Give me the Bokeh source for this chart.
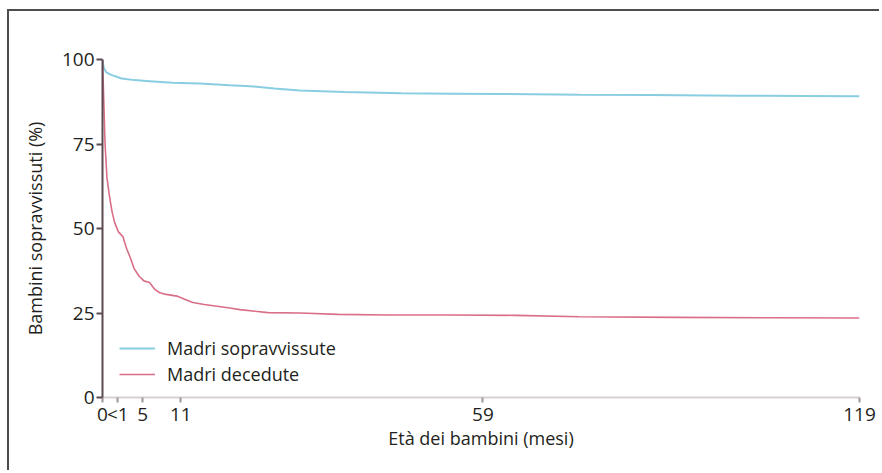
from bokeh.plotting import figure
from bokeh.models import Range1d, FixedTicker, Legend, LegendItem
from bokeh.embed import file_html
from bokeh.resources import INLINE

# Months and survival (%)
months_alive = [0, 0.2, 0.6, 1.2, 1.9, 3, 5, 7.4, 11, 15.3, 20, 23.2, 27, 31, 38, 47, 55, 63, 75, 86, 100, 110, 119]
surv_alive = [100, 97.5, 96.2, 95.6, 95.1, 94.4, 93.9, 93.6, 93.1, 92.9, 92.4, 92.1, 91.4, 90.8, 90.4, 90.0, 89.9, 89.8, 89.6, 89.5, 89.3, 89.2, 89.1]

months_dead = [0, 0.2, 0.4, 0.7, 1.1, 1.5, 1.9, 2.5, 3.2, 3.8, 4.3, 5, 5.8, 6.5, 7.4, 8.2, 9, 10, 11.7, 13, 14.2, 16, 18, 20, 21.6, 24, 26, 31, 37, 45, 55, 65, 75, 90, 105, 119]
surv_dead = [100, 88, 75, 65, 59.5, 55, 51.8, 49, 47.6, 44, 41.7, 38, 35.8, 34.5, 34, 32, 31, 30.5, 30, 29, 28.1, 27.5, 27, 26.5, 26, 25.5, 25.1, 25, 24.6, 24.4, 24.4, 24.3, 23.9, 23.7, 23.6, 23.5]

y_ticks = [0, 25, 50, 75, 100]
x_tick_pos = [0, 2.4, 6.3, 12.3, 59.8, 119]
x_tick_labels = ["0", "<1", "5", "11", "59", "119"]

series_names = ["Madri sopravvissute", "Madri decedute"]

FONT = "Open Sans"
TXT = "#231f20"

p = figure(width=872, height=461, output_backend="svg", toolbar_location=None,
           x_range=Range1d(0, 119), y_range=Range1d(0, 100),
           min_border_left=93, min_border_right=22, min_border_top=48, min_border_bottom=75,
           margin=(9, 0, 0, 7),
           styles={"border-left": "2px solid #4d4d4d", "border-top": "2px solid #4d4d4d"})
p.outline_line_color = None
p.xgrid.grid_line_color = None
p.ygrid.grid_line_color = None
p.background_fill_color = "white"
p.border_fill_color = "white"

r_alive = p.line(months_alive, surv_alive, line_color="#62bcd6", line_width=2, line_alpha=0.75)
r_dead = p.line(months_dead, surv_dead, line_color="#cc3f5f", line_width=1.6, line_alpha=0.75)

# y axis
ya = p.yaxis[0]
ya.ticker = FixedTicker(ticks=y_ticks)
ya.axis_line_color = "#5c4a52"
ya.axis_line_width = 2
ya.major_tick_line_color = "#5c4a52"
ya.major_tick_line_width = 2
ya.major_tick_out = 6
ya.major_tick_in = 0
ya.minor_tick_line_color = None
ya.major_label_text_font = FONT
ya.major_label_text_font_size = "19px"
ya.major_label_text_color = TXT
ya.major_label_standoff = 2
ya.axis_label = "Bambini sopravvissuti (%)"
ya.axis_label_text_font = FONT
ya.axis_label_text_font_size = "18px"
ya.axis_label_text_font_style = "normal"
ya.axis_label_text_color = TXT
ya.axis_label_standoff = 12

# x axis
xa = p.xaxis[0]
xa.ticker = FixedTicker(ticks=x_tick_pos)
xa.major_label_overrides = {pos: lab for pos, lab in zip(x_tick_pos, x_tick_labels)}
xa.axis_line_color = "#d9d2d5"
xa.axis_line_width = 2
xa.major_tick_line_color = "#a09498"
xa.major_tick_line_width = 2
xa.major_tick_out = 5
xa.major_tick_in = 0
xa.minor_tick_line_color = None
xa.major_label_text_font = FONT
xa.major_label_text_font_size = "19px"
xa.major_label_text_color = TXT
xa.major_label_standoff = -2
xa.axis_label = "Età dei bambini (mesi)"
xa.axis_label_text_font = FONT
xa.axis_label_text_font_size = "18px"
xa.axis_label_text_font_style = "normal"
xa.axis_label_text_color = TXT
xa.axis_label_standoff = -4

legend = Legend(items=[LegendItem(label=series_names[0], renderers=[r_alive]),
                       LegendItem(label=series_names[1], renderers=[r_dead])],
                location=(17, 11))
legend.border_line_color = None
legend.background_fill_alpha = 0
legend.label_text_font = FONT
legend.label_text_font_size = "18px"
legend.label_text_color = TXT
legend.glyph_width = 36
legend.glyph_height = 20
legend.spacing = 2
legend.label_standoff = 12
legend.padding = 10
p.add_layout(legend, "center")

open("out.html", "w").write(file_html(p, INLINE))
